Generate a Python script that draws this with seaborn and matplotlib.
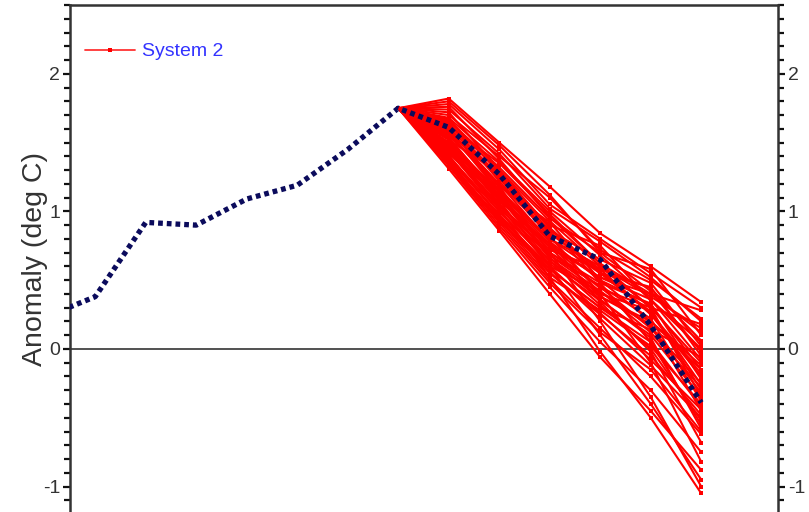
import numpy as np
import pandas as pd
import matplotlib
matplotlib.use("Agg")
import matplotlib.pyplot as plt
from matplotlib.lines import Line2D
from matplotlib.ticker import MultipleLocator
import seaborn as sns

# observed / reference series (step index 0..13)
obs_steps = list(range(14))
obs_values = [0.23, 0.38, 0.92, 0.90, 1.09, 1.19, 1.45, 1.75,
              1.61, 1.27, 0.82, 0.65, 0.17, -0.39]

# ensemble runs of System 2, all starting from step 7
run_steps = [7, 8, 9, 10, 11, 12, 13]
runs = [
    [1.75, 1.82, 1.50, 1.18, 0.84, 0.60, 0.34],
    [1.75, 1.78, 1.45, 1.05, 0.80, 0.55, 0.30],
    [1.75, 1.70, 1.40, 1.10, 0.72, 0.50, 0.22],
    [1.75, 1.66, 1.32, 0.95, 0.70, 0.58, 0.10],
    [1.75, 1.62, 1.35, 0.98, 0.62, 0.40, 0.28],
    [1.75, 1.58, 1.25, 0.90, 0.75, 0.35, 0.05],
    [1.75, 1.55, 1.20, 0.85, 0.55, 0.45, -0.05],
    [1.75, 1.52, 1.28, 0.80, 0.60, 0.30, 0.18],
    [1.75, 1.50, 1.15, 0.78, 0.50, 0.20, -0.12],
    [1.75, 1.48, 1.10, 0.72, 0.58, 0.25, -0.20],
    [1.75, 1.45, 1.05, 0.70, 0.45, 0.15, -0.25],
    [1.75, 1.42, 1.12, 0.66, 0.40, 0.28, -0.30],
    [1.75, 1.40, 1.00, 0.62, 0.35, 0.10, -0.35],
    [1.75, 1.38, 0.98, 0.58, 0.30, 0.05, -0.42],
    [1.75, 1.36, 0.95, 0.55, 0.25, -0.05, -0.48],
    [1.75, 1.35, 0.92, 0.50, 0.15, -0.20, -0.62],
    [1.75, 1.33, 0.88, 0.45, 0.05, -0.30, -0.75],
    [1.75, 1.52, 1.08, 0.60, 0.10, -0.40, -0.95],
    [1.75, 1.48, 1.02, 0.52, -0.02, -0.50, -1.05],
    [1.75, 1.60, 1.18, 0.70, 0.20, -0.35, -1.00],
    [1.75, 1.65, 1.22, 0.82, 0.40, -0.10, -0.82],
    [1.75, 1.72, 1.30, 0.88, 0.48, 0.05, -0.55],
    [1.75, 1.56, 1.18, 0.92, 0.50, 0.32, -0.15],
    [1.75, 1.46, 1.08, 0.76, 0.52, 0.40, 0.12],
    [1.75, 1.63, 1.26, 0.86, 0.65, 0.48, 0.02],
    [1.75, 1.44, 1.02, 0.68, 0.46, 0.22, -0.38],
    [1.75, 1.53, 1.12, 0.74, 0.38, 0.18, -0.45],
    [1.75, 1.68, 1.36, 1.00, 0.68, 0.36, -0.08],
    [1.75, 1.41, 0.96, 0.60, 0.42, 0.12, -0.28],
    [1.75, 1.57, 1.16, 0.80, 0.55, 0.26, -0.18],
    [1.75, 1.74, 1.42, 1.02, 0.78, 0.52, 0.20],
    [1.75, 1.50, 1.06, 0.64, 0.32, 0.00, -0.52],
    [1.75, 1.37, 0.94, 0.52, 0.28, 0.02, -0.40],
    [1.75, 1.61, 1.24, 0.84, 0.58, 0.44, 0.06],
    [1.75, 1.47, 1.14, 0.76, 0.44, 0.30, -0.10],
    [1.75, 1.80, 1.48, 1.12, 0.70, 0.42, -0.02],
    [1.75, 1.54, 1.10, 0.66, 0.36, 0.08, -0.58],
    [1.75, 1.43, 1.04, 0.70, 0.48, 0.33, -0.22],
    [1.75, 1.59, 1.20, 0.78, 0.34, -0.02, -0.68],
    [1.75, 1.39, 0.97, 0.56, 0.22, -0.12, -0.50],
    [1.75, 1.31, 0.86, 0.40, -0.06, -0.45, -0.88],
    [1.75, 1.34, 0.90, 0.48, 0.12, -0.15, -0.60],
    [1.75, 1.64, 1.30, 0.93, 0.60, 0.38, 0.15],
    [1.75, 1.49, 1.09, 0.74, 0.52, 0.36, 0.00],
    [1.75, 1.58, 1.14, 0.68, 0.42, 0.16, -0.32],
    [1.75, 1.44, 1.00, 0.64, 0.38, 0.20, -0.15],
    [1.75, 1.67, 1.28, 0.88, 0.56, 0.27, -0.26],
    [1.75, 1.35, 0.93, 0.58, 0.30, 0.14, -0.06],
    [1.75, 1.76, 1.38, 0.96, 0.62, 0.30, -0.35],
    [1.75, 1.46, 1.04, 0.60, 0.26, -0.08, -0.44],
]

sns.set_style("white")
plt.rcParams['font.family'] = ['Liberation Sans', 'DejaVu Sans']

# long table for seaborn
rows = []
for r, vals in enumerate(runs):
    for s, v in zip(run_steps, vals):
        rows.append({'run': r, 'step': s, 'anom': v})
ens = pd.DataFrame(rows)
obs = pd.DataFrame({'step': obs_steps, 'anom': obs_values})

fig = plt.figure(figsize=(8.09, 5.12), dpi=100)
ax = fig.add_axes([70 / 809, 0.0, 708 / 809, 507 / 512])

ax.axhline(0, color='#222222', lw=1.1, zorder=1)

sns.lineplot(data=ens, x='step', y='anom', units='run', estimator=None,
             color='#ff0000', lw=1.5, marker='s', markersize=3.2,
             markeredgewidth=0, ax=ax, legend=False, zorder=2)

sns.lineplot(data=obs, x='step', y='anom', color='#0b0b5c', lw=3.8,
             ax=ax, legend=False, zorder=3, linestyle=(0, (0.9, 0.75)))

ax.set_xlim(0.5, 14.52)
ax.set_ylim(-1.185, 2.5)

ax.set_xticks([])
ax.set_xlabel('')
ax.yaxis.set_major_locator(MultipleLocator(1))
ax.yaxis.set_minor_locator(MultipleLocator(0.1))
ax.tick_params(axis='y', which='both', direction='out', left=True, right=True,
               labelleft=True, labelright=True, color='#111111',
               labelcolor='#333333', labelsize=14, pad=2)
ax.tick_params(axis='y', which='major', length=5, width=1.6)
ax.tick_params(axis='y', which='minor', length=4, width=1.6)
ax.set_yticks([-1, 0, 1, 2])
ax.set_yticklabels(['-1', '0', '1', '2'])

for side in ['left', 'right', 'top']:
    ax.spines[side].set_color('#333333')
    ax.spines[side].set_linewidth(1.8)
ax.spines['bottom'].set_visible(False)

ax.set_ylabel('Anomaly (deg C)', fontsize=20.5, color='#333333', labelpad=-4)

handle = Line2D([], [], color='#ff3333', lw=1.3, marker='s', markersize=3.5,
                markerfacecolor='#ff0000', markeredgewidth=0)
leg = ax.legend([handle], ['System 2'], loc='upper left', frameon=False,
                fontsize=14, handlelength=2.6, handletextpad=0.35,
                bbox_to_anchor=(-0.004, 0.96))
for t in leg.get_texts():
    t.set_color('#3333ff')

fig.savefig('out.png', dpi=100)
